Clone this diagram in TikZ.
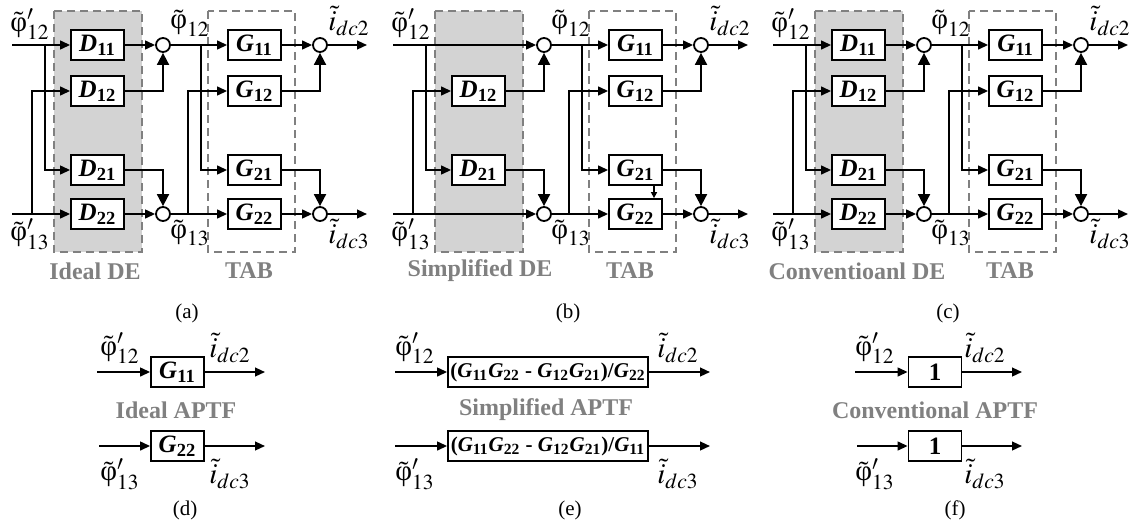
\documentclass[tikz,border=0pt]{standalone}
\usepackage{mathptmx}
\usepackage[no-math]{fontspec}
\setmainfont{Liberation Serif}
\usetikzlibrary{arrows.meta, positioning}
\definecolor{deshade}{HTML}{D3D3D3}
\definecolor{zonegray}{HTML}{808080}
\newcommand{\tf}[2]{\textbf{\textit{#1}}\textsubscript{\textbf{#2}}}
\newcommand{\phv}{\mbox{\textup{φ}}}

\begin{document}
\begin{tikzpicture}[x=0.5pt, y=-0.5pt, line width=0.9pt,
    blk/.style={draw, fill=white, minimum width=26.5pt, minimum height=15pt, inner sep=1pt, font=\fontsize{12.5}{14}\selectfont},
    sum/.style={draw, circle, fill=white, minimum size=7pt, inner sep=0pt},
    sig/.style={-{Triangle[length=5pt, width=4.4pt]}},
    sigbig/.style={-{Triangle[length=6pt, width=6pt]}},
    sigsmall/.style={-{Triangle[length=3pt, width=3pt]}},
    lbl/.style={inner sep=0pt, font=\fontsize{14.5}{16}\selectfont},
    zone/.style={draw=zonegray, dash pattern=on 4pt off 2.5pt, line width=0.6pt},
    zonetag/.style={text=zonegray, font=\bfseries\fontsize{12}{14}\selectfont},
    captag/.style={font=\fontsize{10.5}{12}\selectfont}]
  \useasboundingbox (0,0) rectangle (1133,525);
  \foreach \p/\dx/\de/\dex in {a/0/Ideal DE/95, b/381/Simplified DE/99, c/761/Conventioanl DE/96} {
    \begin{scope}[shift={(\dx,0)}, name prefix=\p-]
      \fill[deshade] (54,11) rectangle (142,252);
      \draw[zone] (54,11) rectangle (142,252);
      \draw[zone] (208,11) rectangle (295,252);
      \coordinate (in1) at (12,45);
      \coordinate (in2) at (12,214);
      \coordinate (bt) at (45,45);
      \coordinate (bb) at (32,214);
      \node[blk] (D12) at (97.5,91) {\tf{D}{12}};
      \node[blk] (D21) at (97.5,170) {\tf{D}{21}};
      \node[sum] (s1) at (163,45) {};
      \node[sum] (s2) at (163,214) {};
      \coordinate (ct) at (201,45);
      \coordinate (cb) at (188,214);
      \node[blk] (G11) at (254.5,45) {\tf{G}{11}};
      \node[blk] (G12) at (254.5,91) {\tf{G}{12}};
      \node[blk] (G21) at (254.5,170) {\tf{G}{21}};
      \node[blk] (G22) at (254.5,214) {\tf{G}{22}};
      \node[sum] (s3) at (320,45) {};
      \node[sum] (s4) at (320,214) {};
      \coordinate (o1) at (367,45);
      \coordinate (o2) at (367,214);
      \draw[sig] (bt) |- (D21);
      \draw[sig] (bb) |- (D12);
      \draw[sigbig] (D12) -| (s1);
      \draw[sigbig] (D21) -| (s2);
      \draw[sig] (s1) -- (G11);
      \draw[sig] (ct) |- (G21);
      \draw[sig] (s2) -- (G22);
      \draw[sig] (cb) |- (G12);
      \draw[sig] (G11) -- (s3);
      \draw[sig] (G22) -- (s4);
      \draw[sigbig] (G12) -| (s3);
      \draw[sigbig] (G21) -| (s4);
      \draw[sig] (s3) -- (o1);
      \draw[sig] (s4) -- (o2);
      \node[lbl] (lp1) at (30,24) {$\tilde{\phv}'_{12}$};
      \node[lbl] (lp2) at (30,234) {$\tilde{\phv}'_{13}$};
      \node[lbl] (lq1) at (190,23) {$\tilde{\phv}_{12}$};
      \node[lbl] (lq2) at (190,233) {$\tilde{\phv}_{13}$};
      \node[lbl] (li1) at (349,21) {$\tilde{i}_{dc2}$};
      \node[lbl] (li2) at (349,234) {$\tilde{i}_{dc3}$};
      \node[zonetag] (zd) at (\dex,271) {\de};
      \node[zonetag] (zt) at (249,271) {TAB};
      \node[captag] (cp) at (187,313) {(\p)};
    \end{scope}
  }
  \foreach \p/\dx in {a/0, c/761} {
    \begin{scope}[shift={(\dx,0)}, name prefix=\p-]
      \node[blk] (D11) at (97.5,45) {\tf{D}{11}};
      \node[blk] (D22) at (97.5,214) {\tf{D}{22}};
      \draw[sig] (in1) -- (D11);
      \draw[sig] (D11) -- (s1);
      \draw[sig] (in2) -- (D22);
      \draw[sig] (D22) -- (s2);
    \end{scope}
  }
  \begin{scope}[shift={(381,0)}, name prefix=b-]
    \draw[sig] (in1) -- (s1);
    \draw[sig] (in2) -- (s2);
    \draw[sigsmall] ([xshift=9.25pt]G21.south) -- ([xshift=9.25pt]G22.north);
  \end{scope}

  \node[blk] (dG11) at (177.5,372) {\tf{G}{11}};
  \node[blk] (dG22) at (177.5,446) {\tf{G}{22}};
  \coordinate (dI1) at (97,372);
  \coordinate (dO1) at (265,372);
  \coordinate (dI2) at (99,446);
  \coordinate (dO2) at (265,446);
  \draw[sig] (dI1) -- (dG11);
  \draw[sig] (dG11) -- (dO1);
  \draw[sig] (dI2) -- (dG22);
  \draw[sig] (dG22) -- (dO2);
  \node[lbl] at (120,348) {$\tilde{\phv}'_{12}$};
  \node[lbl] at (230,348) {$\tilde{i}_{dc2}$};
  \node[lbl] at (120,474) {$\tilde{\phv}'_{13}$};
  \node[lbl] at (230,474) {$\tilde{i}_{dc3}$};
  \node[zonetag] at (176,410) {Ideal APTF};
  \node[captag] at (185,510) {(d)};

  \node[blk, minimum width=100pt, font=\fontsize{10.5}{13}\selectfont] (eF1) at (548,372) {\bfseries(\tf{G}{11}\tf{G}{22} - \tf{G}{12}\tf{G}{21})/\tf{G}{22}};
  \node[blk, minimum width=100pt, font=\fontsize{10.5}{13}\selectfont] (eF2) at (548,446) {\bfseries(\tf{G}{11}\tf{G}{22} - \tf{G}{12}\tf{G}{21})/\tf{G}{11}};
  \coordinate (eI1) at (395,372);
  \coordinate (eO1) at (710,372);
  \coordinate (eI2) at (395,446);
  \coordinate (eO2) at (710,446);
  \draw[sig] (eI1) -- (eF1);
  \draw[sig] (eF1) -- (eO1);
  \draw[sig] (eI2) -- (eF2);
  \draw[sig] (eF2) -- (eO2);
  \node[lbl] at (415,348) {$\tilde{\phv}'_{12}$};
  \node[lbl] at (678,348) {$\tilde{i}_{dc2}$};
  \node[lbl] at (415,474) {$\tilde{\phv}'_{13}$};
  \node[lbl] at (678,474) {$\tilde{i}_{dc3}$};
  \node[zonetag] at (546,410) {Simplified APTF};
  \node[captag] at (570,510) {(e)};

  \node[blk] (fU1) at (935,372) {\textbf{1}};
  \node[blk] (fU2) at (935,446) {\textbf{1}};
  \coordinate (fI1) at (855,372);
  \coordinate (fO1) at (1022,372);
  \coordinate (fI2) at (857,446);
  \coordinate (fO2) at (1022,446);
  \draw[sig] (fI1) -- (fU1);
  \draw[sig] (fU1) -- (fO1);
  \draw[sig] (fI2) -- (fU2);
  \draw[sig] (fU2) -- (fO2);
  \node[lbl] at (875,348) {$\tilde{\phv}'_{12}$};
  \node[lbl] at (985,348) {$\tilde{i}_{dc2}$};
  \node[lbl] at (875,474) {$\tilde{\phv}'_{13}$};
  \node[lbl] at (985,474) {$\tilde{i}_{dc3}$};
  \node[zonetag] at (935,410) {Conventional APTF};
  \node[captag] at (955,510) {(f)};
\end{tikzpicture}
\end{document}
